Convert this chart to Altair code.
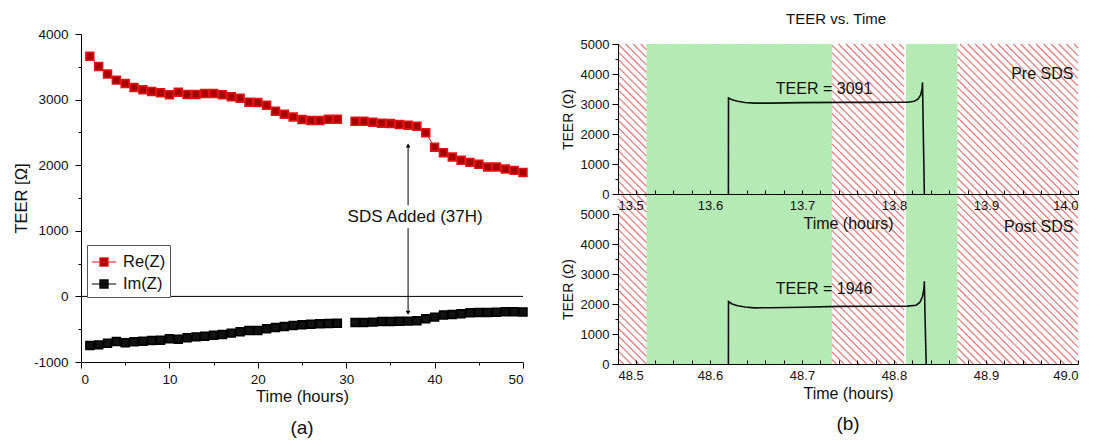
import math
import altair as alt
import pandas as pd

# ---------------- panel (a) data ----------------
hours = list(range(1, 30)) + list(range(31, 51))
re_z = [3660, 3506, 3389, 3297, 3246, 3185, 3149, 3124, 3103, 3073,
        3113, 3078, 3078, 3093, 3093, 3073, 3042, 3022, 2960, 2955,
        2915, 2823, 2777, 2736, 2696, 2680, 2680, 2700, 2700,
        2670, 2670, 2655, 2640, 2635, 2620, 2610, 2595, 2495, 2275,
        2191, 2125, 2074, 2043, 2013, 1972, 1972, 1941, 1921, 1890]
im_z = [-749, -739, -713, -688, -708, -693, -683, -673, -667, -647,
        -652, -632, -617, -606, -591, -581, -560, -540, -520, -520,
        -494, -474, -459, -443, -433, -423, -418, -413, -410,
        -397, -397, -392, -382, -382, -380, -377, -372, -341, -316,
        -285, -275, -265, -250, -245, -245, -240, -234, -234, -238]
series_names = ["Re(Z)", "Im(Z)"]
marker_fill = ["#a80000", "#111111"]
marker_edge = ["#e01414", "#000000"]

sds_hour = 37
sds_text = "SDS Added (37H)"
sds_text_at = [37.8, 1213]
arrow_from = [2290, 1040]
arrow_to = [1390, -240]
head_values = [2300, -250]
head_shapes = ["triangle-up", "triangle-down"]
a_major_x = [0, 10, 20, 30, 40, 50]
a_minor_x = [5, 15, 25, 35, 45]
a_major_y = [-1000, 0, 1000, 2000, 3000, 4000]
a_minor_y = [-500, 500, 1500, 2500, 3500]

# ---------------- panel (b) data ----------------
t_pre = [13.620, 13.6201, 13.624, 13.630, 13.638, 13.648, 13.665, 13.700,
         13.740, 13.780, 13.815, 13.822, 13.826, 13.829, 13.8305, 13.831,
         13.832, 13.833]
v_pre = [0, 3200, 3140, 3090, 3050, 3030, 3030, 3045, 3055, 3055, 3060,
         3090, 3160, 3300, 3500, 3720, 1750, 0]
t_post = [48.620, 48.6201, 48.624, 48.630, 48.638, 48.648, 48.665, 48.700,
          48.740, 48.780, 48.815, 48.824, 48.828, 48.831, 48.8325, 48.833,
          48.8338, 48.835]
v_post = [0, 2080, 2000, 1940, 1900, 1870, 1875, 1890, 1920, 1925, 1930,
          1960, 2050, 2250, 2500, 2760, 1500, 0]
edges_pre = [13.5, 13.531, 13.7325, 13.811, 13.813, 13.869, 14.0]
edges_post = [48.5, 48.531, 48.7325, 48.811, 48.813, 48.869, 49.0]
band_kind = ["red", "green", "red", "gap", "green", "red"]
pre_label, pre_label_at = "TEER = 3091", [13.724, 3500]
post_label, post_label_at = "TEER = 1946", [48.724, 2500]
pre_tag, pre_tag_at = "Pre SDS", [13.995, 4000]
post_tag, post_tag_at = "Post SDS", [48.995, 4560]
b_major_y = [0, 1000, 2000, 3000, 4000, 5000]
b_minor_y = [500, 1500, 2500, 3500, 4500]

FONT = "Liberation Sans"
RED_HATCH = "#e27a7a"
GREEN_BG = "#bbeebb"
GREEN_HATCH = "#a2dea2"
NUM_LABEL = "'' + datum.value"

# ---------------- panel (a) chart ----------------
rows = []
for s, vals in zip(series_names, [re_z, im_z]):
    for h, v in zip(hours, vals):
        rows.append({"hour": h, "value": v, "series": s, "seg": 0 if h < 30 else 1})
df_a = pd.DataFrame(rows)

XA = alt.X("hour:Q", scale=alt.Scale(domain=[0, 50], nice=False),
           axis=alt.Axis(values=a_major_x, title="Time (hours)", orient="bottom",
                         tickSize=6, labelPadding=4, labelFontSize=13.5,
                         titleFontSize=16.5, titlePadding=3))
YA = alt.Y("value:Q", scale=alt.Scale(domain=[-1000, 4000], nice=False),
           axis=alt.Axis(values=a_major_y, labelExpr=NUM_LABEL, orient="left",
                         title="TEER [\u03a9]", tickSize=6, labelPadding=7,
                         labelFontSize=13.5, titleFontSize=16.5, titlePadding=4))

line_layers = []
for s, col in zip(series_names, marker_edge):
    line_layers.append(
        alt.Chart(df_a).transform_filter(alt.datum.series == s)
        .mark_line(color=col, strokeWidth=1)
        .encode(x=XA, y=YA, detail="seg:N")
    )

legend_symbol = "M-1,0H1M-0.33,-0.33H0.33V0.33H-0.33Z"
leg = alt.Legend(orient="none", legendX=6, legendY=211, title=None,
                 symbolType=legend_symbol, symbolSize=600, symbolStrokeWidth=1.2,
                 labelFontSize=16.5, labelOffset=6, strokeColor="#555",
                 fillColor="white", padding=4, rowPadding=0)
points = alt.Chart(df_a).mark_square(size=62, filled=True, strokeWidth=1.6, opacity=1).encode(
    x=XA, y=YA,
    color=alt.Color("series:N", scale=alt.Scale(domain=series_names, range=marker_fill), legend=leg),
    stroke=alt.Stroke("series:N", scale=alt.Scale(domain=series_names, range=marker_edge), legend=leg),
)

df_arrow = pd.DataFrame({"hour": [sds_hour, sds_hour], "value": arrow_from, "value2": arrow_to})
arrow = alt.Chart(df_arrow).mark_rule(color="black", strokeWidth=1).encode(
    x=XA, y=YA, y2=alt.Y2("value2:Q"))
df_heads = pd.DataFrame({"hour": [sds_hour, sds_hour], "value": head_values, "shape": head_shapes})
heads = alt.Chart(df_heads).mark_point(filled=True, color="black", size=22, opacity=1).encode(
    x=XA, y=YA, shape=alt.Shape("shape:N", scale=None))
df_txt = pd.DataFrame({"hour": [sds_text_at[0]], "value": [sds_text_at[1]], "label": [sds_text]})
sds_label = alt.Chart(df_txt).mark_text(fontSize=17, color="#111").encode(x=XA, y=YA, text="label:N")

# zero line, carrying the minor-tick axes of panel (a)
df_zero = pd.DataFrame({"hour": [0], "hour2": [50], "value": [0]})
zero_rule = alt.Chart(df_zero).mark_rule(color="black", strokeWidth=1).encode(
    x=alt.X("hour:Q", scale=alt.Scale(domain=[0, 50], nice=False),
            axis=alt.Axis(values=a_minor_x, labels=False, domain=False, title=None,
                          tickSize=3, orient="bottom")),
    x2=alt.X2("hour2:Q"),
    y=alt.Y("value:Q", scale=alt.Scale(domain=[-1000, 4000], nice=False),
            axis=alt.Axis(values=a_minor_y, labels=False, domain=False, title=None,
                          tickSize=3, orient="left")),
)

left_main = alt.layer(*line_layers, points, arrow, heads, sds_label)
left = alt.layer(zero_rule, left_main).resolve_scale(x="independent", y="independent").properties(
    width=442, height=328,
    title=alt.TitleParams("(a)", orient="bottom", fontSize=19, offset=14, fontWeight="normal"))


# ---------------- panel (b) chart ----------------
def hatch_rows(edges, want, x_domain, v_top, spacing, direction, W=460.0, H=150.0, vmax=5000.0):
    x0, x1 = x_domain
    vt = (vmax - v_top) / vmax * H
    vb = H
    segs = []
    for i, kind in enumerate(band_kind):
        if kind != want:
            continue
        ua = (edges[i] - x0) / (x1 - x0) * W
        ub = (edges[i + 1] - x0) / (x1 - x0) * W
        if direction == "back":
            for k in range(math.floor((ua - vb) / spacing), math.ceil((ub - vt) / spacing) + 1):
                c = k * spacing
                lo, hi = max(ua, vt + c), min(ub, vb + c)
                if hi - lo > 0.2:
                    segs.append((lo, lo - c, hi, hi - c))
        else:
            for k in range(math.floor((ua + vt) / spacing), math.ceil((ub + vb) / spacing) + 1):
                c = k * spacing
                lo, hi = max(ua, c - vb), min(ub, c - vt)
                if hi - lo > 0.2:
                    segs.append((lo, c - lo, hi, c - hi))
    return pd.DataFrame([{"t": x0 + u1 / W * (x1 - x0), "v": vmax - p1 / H * vmax,
                          "t2": x0 + u2 / W * (x1 - x0), "v2": vmax - p2 / H * vmax}
                         for (u1, p1, u2, p2) in segs])


def panel(times, values, edges, x_domain, y_range, shade_top, x_offset,
          label, label_at, tag, tag_at):
    ticks = [round(x_domain[0] + 0.1 * i, 1) for i in range(6)]
    minor = [round(x_domain[0] + 0.02 * i, 2) for i in range(26) if i % 5]
    X = alt.X("t:Q", scale=alt.Scale(domain=x_domain, nice=False, zero=False),
              axis=alt.Axis(values=ticks, format=".1f", title="Time (hours)", orient="bottom",
                            offset=x_offset, ticks=False, labelPadding=5, labelFontSize=13,
                            titleFontSize=16, titlePadding=3, zindex=1))
    Y = alt.Y("v:Q", scale=alt.Scale(domain=[0, 5000], range=y_range, nice=False),
              axis=alt.Axis(values=b_major_y, labelExpr=NUM_LABEL,
                            title="TEER (\u03a9)", orient="left", tickSize=6, labelPadding=3,
                            labelFontSize=13, titleFontSize=14, titlePadding=5, zindex=1))
    green = pd.DataFrame([{"t": edges[i], "t2": edges[i + 1], "v": 0, "v2": shade_top}
                          for i, k in enumerate(band_kind) if k == "green"])
    g_rect = alt.Chart(green).mark_rect(color=GREEN_BG, opacity=1).encode(
        x=X, x2=alt.X2("t2:Q"), y=Y, y2=alt.Y2("v2:Q"))
    g_hatch = alt.Chart(hatch_rows(edges, "green", x_domain, shade_top, 3.4, "fwd")).mark_rule(
        color=GREEN_HATCH, strokeWidth=0.8).encode(x=X, x2=alt.X2("t2:Q"), y=Y, y2=alt.Y2("v2:Q"))
    r_hatch = alt.Chart(hatch_rows(edges, "red", x_domain, shade_top, 7.6, "back")).mark_rule(
        color=RED_HATCH, strokeWidth=1.2).encode(x=X, x2=alt.X2("t2:Q"), y=Y, y2=alt.Y2("v2:Q"))
    curve = alt.Chart(pd.DataFrame({"t": times, "v": values, "o": list(range(len(times)))})).mark_line(
        color="#111", strokeWidth=1.6).encode(x=X, y=Y, order="o:Q")
    lab = alt.Chart(pd.DataFrame({"t": [label_at[0]], "v": [label_at[1]], "s": [label]})).mark_text(
        fontSize=16, color="#111").encode(x=X, y=Y, text="s:N")
    main = alt.layer(g_rect, g_hatch, r_hatch, curve, lab)
    # tag text carries the inward x ticks and the minor y ticks
    tg = alt.Chart(pd.DataFrame({"t": [tag_at[0]], "v": [tag_at[1]], "s": [tag]})).mark_text(
        fontSize=16, color="#111", align="right").encode(
        x=alt.X("t:Q", scale=alt.Scale(domain=x_domain, nice=False, zero=False),
                axis=alt.Axis(values=ticks + minor, labels=False, domain=False, title=None,
                              orient="bottom", offset=x_offset - 4, tickSize=4, zindex=1)),
        y=alt.Y("v:Q", scale=alt.Scale(domain=[0, 5000], range=y_range, nice=False),
                axis=alt.Axis(values=b_minor_y, labels=False, domain=False, title=None,
                              orient="left", tickSize=3, zindex=1)),
        text="s:N")
    return alt.layer(main, tg).resolve_scale(x="independent", y="independent")


top = panel(t_pre, v_pre, edges_pre, [13.5, 14.0], [160, 10], 5000, -170,
            pre_label, pre_label_at, pre_tag, pre_tag_at)
bottom = panel(t_post, v_post, edges_post, [48.5, 49.0], [330, 180], 5633, 0,
               post_label, post_label_at, post_tag, post_tag_at)

right = alt.layer(top, bottom).resolve_scale(x="independent", y="independent").properties(
    width=460, height=330,
    title=alt.TitleParams("(b)", orient="bottom", fontSize=19, offset=14, fontWeight="normal"))

chart = alt.hconcat(
    left, right, spacing=95, bounds="flush",
    title=alt.TitleParams("TEER vs. Time", anchor="middle", dx=290, fontSize=15,
                          offset=0, fontWeight="normal"),
).properties(
    padding={"left": 5, "top": 4, "right": 0, "bottom": 0}
).configure(font=FONT).configure_axis(
    grid=False, domainColor="black", tickColor="black", labelColor="#111",
    titleColor="#111", titleFontWeight="normal", labelFont=FONT, titleFont=FONT
).configure_view(strokeWidth=0).configure_title(font=FONT, color="#111").configure_legend(
    labelFont=FONT, labelColor="#111")

chart.save("out.html", embed_options={"renderer": "svg", "actions": False})
